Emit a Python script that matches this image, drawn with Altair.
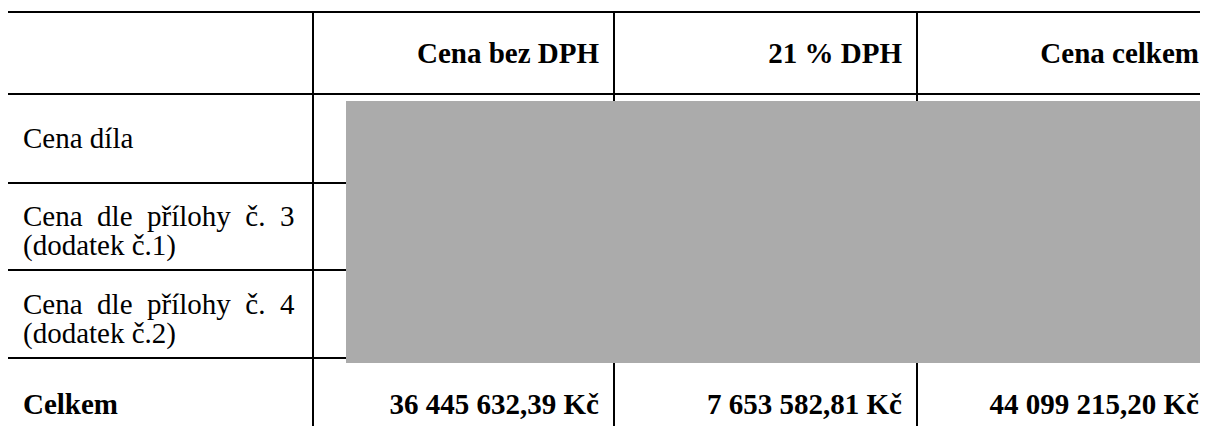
import altair as alt
import pandas as pd

# ---- table content ----
header_labels = ["Cena bez DPH", "21 % DPH", "Cena celkem"]
row_labels = [
    "Cena díla",
    "Cena\u00a0 dle\u00a0 přílohy\u00a0 č.\u00a0 3\n(dodatek č.1)",
    "Cena\u00a0 dle\u00a0 přílohy\u00a0 č.\u00a0 4\n(dodatek č.2)",
]
total_label = "Celkem"
total_values = ["36 445 632,39 Kč", "7 653 582,81 Kč", "44 099 215,20 Kč"]

# ---- layout (page pixel units) ----
COL_EDGES = [7, 313, 614, 917, 1220]
ROW_EDGES = [12, 94, 183, 270, 358, 446]
TEXT_RIGHT = [599, 902, 1199]   # right edge of right-aligned cell text
PAD_L = 16
FONT = "Liberation Serif"
FS = 29
LINE_H = 29
HDR_BASE = 63
ROW_FIRST_BASE = [148, 226, 314]
TOT_BASE = 414
W, H = 1192, 418

xs = alt.Scale(domain=[8, 8 + W], range=[0, W])
ys = alt.Scale(domain=[8, 8 + H], range=[0, H])

# grid lines
hl = pd.DataFrame({"x": [COL_EDGES[0]] * len(ROW_EDGES),
                   "x2": [COL_EDGES[-1]] * len(ROW_EDGES),
                   "y": ROW_EDGES})
vl = pd.DataFrame({"x": COL_EDGES,
                   "y": [ROW_EDGES[0]] * len(COL_EDGES),
                   "y2": [ROW_EDGES[-1]] * len(COL_EDGES)})

hlines = alt.Chart(hl).mark_rule(color="black", strokeWidth=2, clip=True).encode(
    x=alt.X("x:Q", scale=xs, axis=None), x2="x2:Q",
    y=alt.Y("y:Q", scale=ys, axis=None))
vlines = alt.Chart(vl).mark_rule(color="black", strokeWidth=2, clip=True).encode(
    x=alt.X("x:Q", scale=xs, axis=None),
    y=alt.Y("y:Q", scale=ys, axis=None), y2="y2:Q")

# redacted block
red = pd.DataFrame({"x": [346], "x2": [1220], "y": [101], "y2": [363]})
redact = alt.Chart(red).mark_rect(color="#ababab", clip=True).encode(
    x=alt.X("x:Q", scale=xs, axis=None), x2="x2:Q",
    y=alt.Y("y:Q", scale=ys, axis=None), y2="y2:Q")

# header text (right aligned in the three value columns)
hdr = pd.DataFrame({"t": header_labels, "x": TEXT_RIGHT, "y": [HDR_BASE] * 3})
hdr_text = alt.Chart(hdr).mark_text(font=FONT, fontSize=FS, fontWeight="bold",
                                    align="right", baseline="alphabetic",
                                    color="black").encode(
    x=alt.X("x:Q", scale=xs, axis=None), y=alt.Y("y:Q", scale=ys, axis=None), text="t:N")

# row labels (multi-line)
rl = pd.DataFrame({"t": row_labels,
                   "x": [COL_EDGES[0] + PAD_L] * len(row_labels),
                   "y": ROW_FIRST_BASE})
rl_text = alt.Chart(rl).mark_text(font=FONT, fontSize=FS, align="left",
                                  baseline="alphabetic", lineBreak="\n",
                                  lineHeight=LINE_H, color="black").encode(
    x=alt.X("x:Q", scale=xs, axis=None), y=alt.Y("y:Q", scale=ys, axis=None), text="t:N")

# totals row
tl = pd.DataFrame({"t": [total_label], "x": [COL_EDGES[0] + PAD_L], "y": [TOT_BASE]})
tl_text = alt.Chart(tl).mark_text(font=FONT, fontSize=FS, fontWeight="bold", align="left",
                                  baseline="alphabetic", color="black").encode(
    x=alt.X("x:Q", scale=xs, axis=None), y=alt.Y("y:Q", scale=ys, axis=None), text="t:N")
tv = pd.DataFrame({"t": total_values, "x": TEXT_RIGHT, "y": [TOT_BASE] * 3})
tv_text = alt.Chart(tv).mark_text(font=FONT, fontSize=FS, fontWeight="bold", align="right",
                                  baseline="alphabetic", color="black").encode(
    x=alt.X("x:Q", scale=xs, axis=None), y=alt.Y("y:Q", scale=ys, axis=None), text="t:N")

chart = alt.layer(hlines, vlines, redact, hdr_text, rl_text, tl_text, tv_text).properties(
    width=W, height=H, padding=0, autosize=alt.AutoSizeParams(type="none"),
    background="white"
).configure_view(stroke=None)

chart.save("out.html", embed_options={"renderer": "svg", "actions": False})
